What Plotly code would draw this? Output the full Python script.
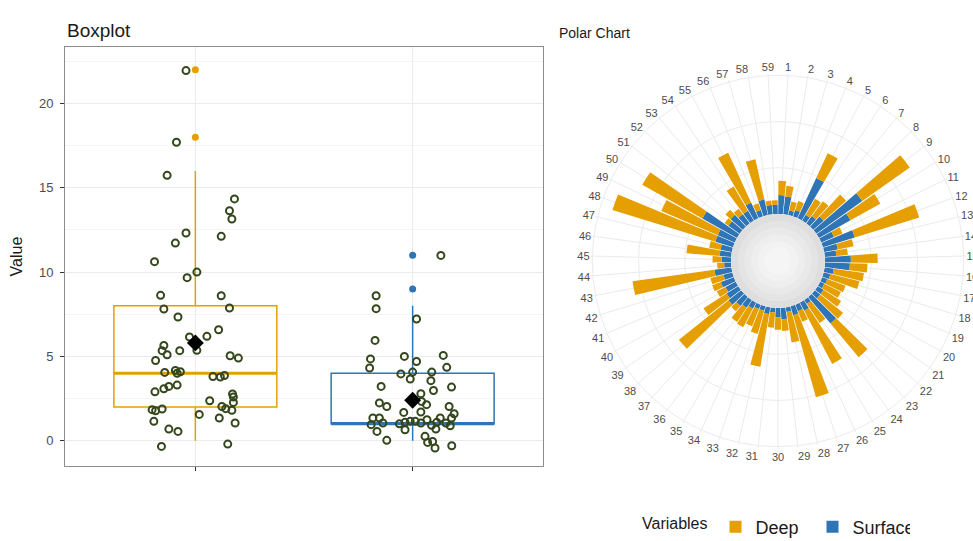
import plotly.graph_objects as go

W, H = 973, 541
ORANGE = "#E69F00"
BLUE = "#2F74B5"
PT_EDGE = "#34471c"
FONT = "Liberation Sans, Arial, sans-serif"

# ---------------- Boxplot data ----------------
groups = ["Deep", "Surface"]
group_pos = [1, 2]
box_q1 = [2, 1]
box_median = [4, 1]
box_q3 = [8, 4]
box_low = [0, 0]
box_high = [16, 8]
box_mean = [5.8, 2.4]
outliers_deep = [18, 22]
outliers_surface = [9, 11]

deep_jit_x = [-0.043, -0.087, -0.130, 0.180, 0.157, 0.168, -0.043, 0.119, -0.092, -0.188,
              0.007, -0.038, -0.160, 0.119, -0.145, 0.157, -0.080, 0.107, 0.053, -0.027,
              0.007, -0.145, -0.153, -0.130, -0.072, -0.183, 0.160, 0.198, -0.141, -0.092,
              -0.069, -0.084, 0.081, 0.115, 0.134, -0.186, -0.145, -0.122, -0.084, 0.066,
              0.171, 0.175, 0.122, 0.140, 0.168, 0.175, -0.199, -0.183, -0.153, -0.191,
              0.018, 0.110, 0.183, -0.122, -0.080, -0.156, 0.149]
deep_jit_y = [21.95, 17.7, 15.74, 14.34, 13.64, 13.15, 12.32, 12.12, 11.72, 10.62,
              10.0, 9.67, 8.62, 8.6, 7.81, 7.87, 7.34, 6.58, 6.19, 6.15,
              5.36, 5.65, 5.34, 5.10, 5.34, 4.76, 5.04, 4.9, 4.05, 4.17,
              4.09, 4.0, 3.81, 3.78, 3.87, 2.9, 3.08, 3.22, 3.3, 2.37,
              2.77, 2.59, 2.03, 1.9, 1.8, 2.27, 1.84, 1.78, 1.88, 1.15,
              1.56, 1.35, 1.05, 0.69, 0.55, -0.34, -0.2]

surf_jit_x = [0.130, -0.168, -0.168, 0.018, -0.173, -0.194, -0.198, -0.038, 0.018, 0.141,
              0.157, -0.054, 0.0, -0.011, 0.088, 0.084, 0.096, 0.179, -0.145, 0.038,
              -0.153, -0.119, 0.041, 0.064, 0.168, 0.191, -0.041, 0.038, -0.183, -0.153,
              -0.191, -0.164, -0.137, -0.061, -0.035, -0.011, 0.012, 0.038, 0.066, 0.087,
              0.111, 0.127, 0.153, 0.179, 0.173, -0.035, 0.107, -0.119, 0.057, 0.069,
              0.092, 0.103, 0.180]
surf_jit_y = [10.99, 8.6, 7.83, 7.22, 5.95, 4.85, 4.31, 5.0, 4.70, 5.06,
              4.35, 3.96, 4.07, 3.66, 4.07, 3.56, 2.98, 3.18, 3.22, 2.79,
              2.24, 2.03, 2.33, 2.14, 2.03, 1.6, 1.68, 1.70, 1.35, 1.35,
              0.95, 0.55, 1.05, 1.0, 1.09, 1.15, 1.15, 1.05, 1.25, 0.91,
              1.09, 1.35, 1.05, 1.35, 0.89, 0.65, 0.69, 0.02, 0.26, -0.1,
              -0.04, -0.43, -0.3]

# ---------------- Polar data ----------------
polar_categories = [str(i) for i in range(1, 60)]
polar_surface = [4.1, 3.9, 1.0, 1.5, 9.6, 1.5, 2.0, 3.0, 12.2, 7.8,
                 3.0, 7.2, 3.0, 2.5, 5.6, 5.4, 2.0, 1.5, 1.2, 1.0,
                 1.5, 1.5, 7.5, 1.0, 2.0, 1.5, 2.0, 1.0, 2.5, 2.0,
                 1.0, 1.5, 1.0, 1.0, 1.5, 2.0, 2.5, 3.5, 3.0, 2.5,
                 3.0, 2.0, 3.7, 1.5, 2.0, 2.5, 2.5, 4.0, 4.0, 8.6,
                 3.0, 3.5, 2.5, 2.5, 3.7, 1.5, 3.5, 2.0, 2.0]
polar_deep = [3.1, 2.3, 2.0, 2.0, 5.9, 4.0, 4.0, 6.5, 12.6, 7.4,
              2.0, 14.6, 3.5, 2.5, 5.8, 3.8, 6.6, 6.5, 4.2, 4.0,
              4.5, 6.3, 9.5, 5.0, 13.0, 2.5, 18.4, 6.7, 2.5, 2.7,
              3.3, 11.5, 5.2, 4.0, 4.5, 3.7, 1.5, 13.7, 5.9, 2.1,
              2.0, 2.9, 17.9, 1.5, 2.0, 7.2, 2.5, 23.3, 13.3, 14.9,
              1.0, 1.5, 1.5, 6.1, 11.9, 1.5, 8.9, 1.0, 1.0]
polar_rmax = 30.5
polar_grid = [10, 20, 30]

# ---------------- Layout geometry ----------------
BOX_X = [65 / W, 543 / W]
BOX_Y = [1 - 466 / H, 1 - 47 / H]
POL_CX, POL_CY, POL_R, POL_HOLE_PX = 778, 261, 188, 47
POL_X = [(POL_CX - POL_R) / W, (POL_CX + POL_R) / W]
POL_Y = [1 - (POL_CY + POL_R) / H, 1 - (POL_CY - POL_R) / H]
HOLE = POL_HOLE_PX / POL_R

fig = go.Figure()

half_w = 0.375
for i, g in enumerate(groups):
    col = ORANGE if i == 0 else BLUE
    fig.add_trace(go.Box(
        x=[group_pos[i]], q1=[box_q1[i]], median=[box_median[i]], q3=[box_q3[i]],
        lowerfence=[box_low[i]], upperfence=[box_high[i]],
        width=2 * half_w, whiskerwidth=0, boxpoints=False,
        line=dict(color=col, width=1.5), fillcolor="rgba(255,255,255,0)",
        showlegend=False, hoverinfo="skip", name=g))
    fig.add_trace(go.Scatter(
        x=[group_pos[i] - half_w, group_pos[i] + half_w],
        y=[box_median[i], box_median[i]], mode="lines",
        line=dict(color=col, width=3), showlegend=False, hoverinfo="skip"))

fig.add_trace(go.Scatter(x=[group_pos[0]] * len(outliers_deep), y=outliers_deep, mode="markers",
                         marker=dict(color=ORANGE, size=7), showlegend=False))
fig.add_trace(go.Scatter(x=[group_pos[1]] * len(outliers_surface), y=outliers_surface, mode="markers",
                         marker=dict(color=BLUE, size=7), showlegend=False))

fig.add_trace(go.Scatter(
    x=[group_pos[0] + d for d in deep_jit_x] + [group_pos[1] + d for d in surf_jit_x],
    y=deep_jit_y + surf_jit_y, mode="markers",
    marker=dict(symbol="circle-open", size=7, color=PT_EDGE, line=dict(width=2, color=PT_EDGE)),
    showlegend=False))

fig.add_trace(go.Scatter(x=group_pos, y=box_mean, mode="markers",
                         marker=dict(symbol="diamond", size=13, color="black"), showlegend=False))

# polar stacked bars (Surface inner, Deep outer)
fig.add_trace(go.Barpolar(r=polar_surface, theta=polar_categories, name="Surface",
                          marker=dict(color=BLUE, line=dict(width=0)), subplot="polar", legendrank=2))
fig.add_trace(go.Barpolar(r=polar_deep, theta=polar_categories, name="Deep",
                          marker=dict(color=ORANGE, line=dict(width=0)), subplot="polar", legendrank=1))

# gray disk in the hole (soft radial gradient)
shapes = []
cx_p = (POL_X[0] + POL_X[1]) / 2
cy_p = (POL_Y[0] + POL_Y[1]) / 2
greys = ["#dedede", "#e4e4e4", "#e9e9e9", "#eeeeee", "#f2f2f2", "#f5f5f5"]
for k, gcol in enumerate(greys):
    rr = POL_HOLE_PX * (1 - k / len(greys) * 0.85)
    shapes.append(dict(type="circle", xref="paper", yref="paper", layer="below",
                       x0=cx_p - rr / W, x1=cx_p + rr / W, y0=cy_p - rr / H, y1=cy_p + rr / H,
                       fillcolor=gcol, line=dict(width=0)))

fig.update_layout(
    width=W, height=H, margin=dict(l=0, r=0, t=0, b=0, autoexpand=False),
    paper_bgcolor="white", plot_bgcolor="white",
    font=dict(family=FONT, color="#4d4d4d"),
    barmode="stack",
    shapes=shapes,
    xaxis=dict(domain=BOX_X, range=[0.4, 2.6], tickvals=group_pos, showticklabels=False,
               ticks="outside", ticklen=4, tickcolor="#333333",
               showgrid=True, gridcolor="#ebebeb", gridwidth=1, zeroline=False,
               showline=True, mirror=True, linecolor="#8c8c8c", linewidth=1),
    yaxis=dict(domain=BOX_Y, range=[-1.5, 23.35], tickvals=[0, 5, 10, 15, 20],
               ticks="outside", ticklen=4, tickcolor="#333333", ticklabelstandoff=4,
               tickfont=dict(size=13, color="#4d4d4d"),
               showgrid=True, gridcolor="#ebebeb", gridwidth=1, zeroline=False,
               minor=dict(dtick=2.5, showgrid=True, gridcolor="#f5f5f5", ticks=""),
               showline=True, mirror=True, linecolor="#8c8c8c", linewidth=1,
               title=dict(text="Value", font=dict(size=16, color="#1a1a1a"), standoff=12)),
    polar=dict(
        domain=dict(x=POL_X, y=POL_Y), hole=HOLE, bgcolor="rgba(0,0,0,0)",
        barmode="stack", bargap=0.1,
        radialaxis=dict(range=[0, polar_rmax], tickvals=polar_grid, showticklabels=False,
                        ticks="", showline=False, gridcolor="#ebebeb", gridwidth=1),
        angularaxis=dict(type="category", categoryarray=polar_categories, direction="clockwise",
                         rotation=90 - 180 / len(polar_categories), showline=False, ticks="",
                         gridcolor="#ebebeb", gridwidth=1,
                         tickfont=dict(size=11, color="#4d4d4d"))),
    legend=dict(orientation="h", x=640 / W, xanchor="left", y=1 - 527 / H, yanchor="middle",
                entrywidth=52, entrywidthmode="pixels",
                title=dict(text="Variables", font=dict(size=16, color="#1a1a1a")),
                font=dict(size=18, color="#1a1a1a"), bgcolor="rgba(0,0,0,0)"),
    annotations=[
        dict(text="Boxplot", xref="paper", yref="paper", x=65 / W, y=1 - 30 / H,
             xanchor="left", yanchor="middle", showarrow=False,
             font=dict(size=19, color="#1a1a1a")),
        dict(text="Polar Chart", xref="paper", yref="paper", x=557 / W, y=1 - 33 / H,
             xanchor="left", yanchor="middle", showarrow=False,
             font=dict(size=14, color="#1a1a1a")),
    ],
)

fig.write_html("out.html", config={"displayModeBar": False},
               post_script="document.body.style.margin='0px';")
